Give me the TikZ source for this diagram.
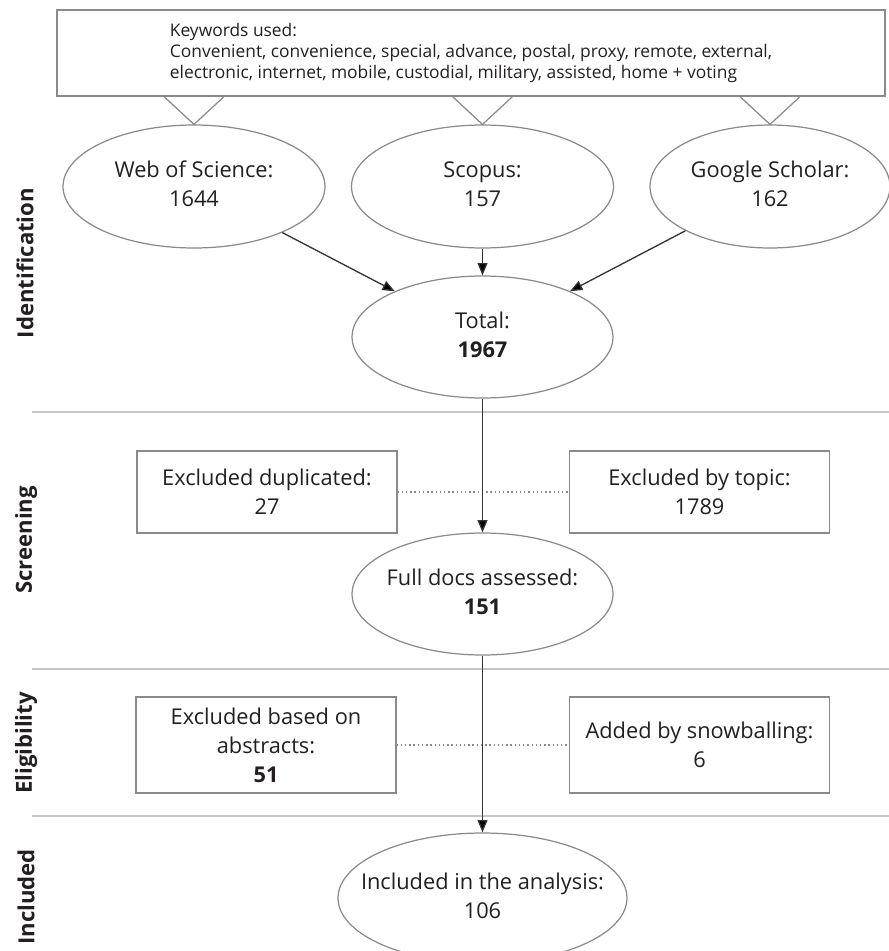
\documentclass[tikz,border=0pt]{standalone}
\usepackage{fontspec}
\setmainfont{Open Sans}
\usetikzlibrary{shapes.geometric,arrows.meta,calc}

\definecolor{ink}{HTML}{231F20}
\definecolor{edge}{HTML}{8A8A8A}
\definecolor{rule}{HTML}{C8C8C8}
\definecolor{wire}{HTML}{333333}

% two centred lines that do not widen the ellipse
\newcommand{\ovaltext}[1]{\makebox[0pt]{\begin{tabular}{@{}c@{}}#1\end{tabular}}}

\begin{document}
\begin{tikzpicture}[x=0.02cm, y=-0.02cm,
    oval/.style={ellipse, draw=edge, line width=0.7pt, inner sep=0pt, text=ink,
      font=\fontsize{12.4}{16.5}\selectfont},
    src/.style={oval, minimum width=5.24cm, minimum height=2.46cm},
    stepbox/.style={rectangle, draw=edge, line width=0.7pt, inner sep=2pt, text=ink,
      align=center, minimum width=5.2cm, font=\fontsize{12.4}{16.6}\selectfont},
    kwbox/.style={rectangle, draw=edge, line width=0.7pt, text=ink, align=left,
      minimum width=16.56cm, minimum height=1.72cm, font=\fontsize{9.9}{11.9}\selectfont},
    stage/.style={rotate=90, text=ink, font=\bfseries\fontsize{12.6}{15}\selectfont},
    callout/.style={draw=edge, line width=0.7pt},
    flow/.style={draw=wire, line width=0.75pt, -{Triangle[length=7pt,width=5.6pt,fill=black]}},
    link/.style={draw=edge, line width=0.7pt, dash pattern=on 0.8pt off 1.6pt},
    sep/.style={draw=rule, line width=0.8pt}]

        \useasboundingbox (0,0) rectangle (889,951);

        % Keywords box
        \node[kwbox] (keywords) at (471,53) {Keywords used:\\
          Convenient, convenience, special, advance, postal, proxy, remote, external,\\
          electronic, internet, mobile, custodial, military, assisted, home + voting};

        % Sources
        \node[src] (wos) at (194,186.5) {\ovaltext{Web of Science:\\1644}};
        \node[src] (scopus) at (482.5,186.5) {\ovaltext{Scopus:\\157}};
        \node[src, minimum width=4.8cm] (google) at (770,186.5) {\ovaltext{Google Scholar:\\162}};

        % Callout wedges under the keywords box
        \foreach \src in {wos,scopus,google}
          \draw[callout] ($(\src.north |- keywords.south)+(-30,0)$) -- (\src.north)
            -- ($(\src.north |- keywords.south)+(30,0)$);

        % Total and the later steps
        \node[oval, minimum width=5.22cm, minimum height=2.44cm] (total) at (482.5,337)
          {\ovaltext{Total:\\\textbf{1967}}};
        \node[oval, minimum width=5.22cm, minimum height=2.44cm] (fulldocs) at (482.5,594)
          {\ovaltext{Full docs assessed:\\\textbf{151}}};
        \node[oval, minimum width=5.78cm, minimum height=2.6cm] (included) at (482.5,898)
          {\ovaltext{Included in the analysis:\\106}};

        % Side boxes
        \node[stepbox, minimum height=1.64cm] (dup) at (267,492) {Excluded duplicated:\\27};
        \node[stepbox, minimum height=1.64cm] (topic) at (699.5,492) {Excluded by topic:\\1789};
        \node[stepbox, minimum height=1.92cm] (abstracts) at (266,745)
          {Excluded based on\\abstracts:\\\textbf{51}};
        \node[stepbox, minimum height=1.92cm] (snowball) at (699.5,745)
          {Added by snowballing:\\6};

        % Stage separators
        \draw[sep] (32,412) -- (889,412);
        \draw[sep] (32,669) -- (889,669);
        \draw[sep] (32,816) -- (889,816);

        % Stage labels
        \node[stage] (ident) at (25,263) {Identification};
        \node[stage] (screen) at (26,540) {Screening};
        \node[stage] (elig) at (26,743) {Eligibility};
        \node[stage] (incl) at (26,897) {Included};

        % Dotted links between side boxes
        \draw[link] (dup) -- (topic);
        \draw[link] (abstracts) -- (snowball);

        % Arrows
        \draw[flow] (wos) -- (total);
        \draw[flow] (scopus) -- (total);
        \draw[flow] (google) -- (total);
        \draw[flow] (total) -- (fulldocs);
        \draw[flow] (fulldocs) -- (included);

    \end{tikzpicture}
\end{document}
